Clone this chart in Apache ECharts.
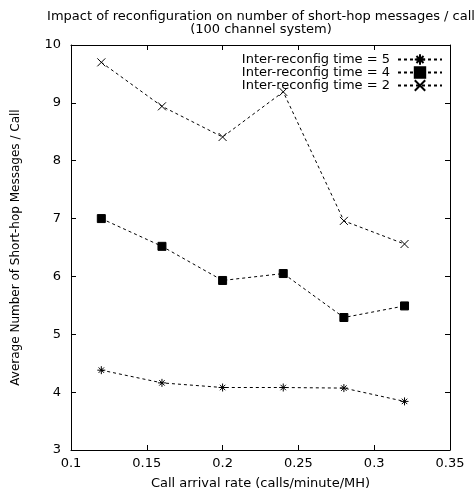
<!DOCTYPE html>
<html>
<head>
<meta charset="utf-8">
<script src="https://cdn.jsdelivr.net/npm/echarts@6/dist/echarts.min.js"></script>
<style>
html, body { margin: 0; padding: 0; background: #fff; }
#chart { width: 475px; height: 490px; }
</style>
</head>
<body>
<div id="chart"></div>
<script>
// call arrival rates
var rates = [0.12, 0.16, 0.2, 0.24, 0.28, 0.32];
// short-hop messages per call, by inter-reconfig time
var time5 = [4.38, 4.16, 4.08, 4.08, 4.07, 3.84];
var time4 = [7.0, 6.52, 5.93, 6.05, 5.29, 5.49];
var time2 = [9.7, 8.94, 8.41, 9.19, 6.96, 6.56];
var seriesNames = ['Inter-reconfig time = 5', 'Inter-reconfig time = 4', 'Inter-reconfig time = 2'];

var font = 'DejaVu Sans, Liberation Sans, sans-serif';
var fs = 13;
var starPath = 'path://M0,5L10,5M5,0L5,10M1.6,1.6L8.4,8.4M8.4,1.6L1.6,8.4';
var crossPath = 'path://M0,0L10,10M10,0L0,10';

function pairs(ys) {
    var out = [];
    for (var i = 0; i < rates.length; i++) {
        out.push([rates[i], ys[i]]);
    }
    return out;
}

function makeSeries(name, ys, symbol, size) {
    return {
        name: name,
        type: 'line',
        data: pairs(ys),
        symbol: symbol,
        symbolSize: size,
        showAllSymbol: true,
        lineStyle: { color: '#000', width: 1, type: [3, 3] },
        itemStyle: { color: '#000', borderColor: '#000', borderWidth: 1 },
        emphasis: { disabled: true },
        animation: false
    };
}

var axisLine = { show: true, lineStyle: { color: '#000', width: 1 } };
var axisTick = { show: true, inside: true, length: 5, lineStyle: { color: '#000' } };

var myChart = echarts.init(document.getElementById('chart'));
myChart.setOption({
    animation: false,
    textStyle: { fontFamily: font },
    title: {
        text: 'Impact of reconfiguration on number of short-hop messages / call\n(100 channel system)',
        left: 256,
        textAlign: 'center',
        top: 5,
        textStyle: { fontFamily: font, fontSize: fs, fontWeight: 'normal', color: '#000', lineHeight: 13 }
    },
    legend: {
        orient: 'vertical',
        right: 27,
        top: 48,
        align: 'right',
        itemWidth: 44,
        itemHeight: 13,
        itemGap: 0,
        textStyle: { fontFamily: font, fontSize: fs, color: '#000', lineHeight: 13, padding: [0, 3, 0, 0] },
        data: seriesNames
    },
    grid: { left: 71, right: 25, top: 45, bottom: 40, containLabel: false, outerBoundsMode: 'none' },
    xAxis: [{
        type: 'value',
        min: 0.1,
        max: 0.35,
        interval: 0.05,
        name: 'Call arrival rate (calls/minute/MH)',
        nameLocation: 'middle',
        nameGap: 27,
        nameTextStyle: { fontFamily: font, fontSize: fs, color: '#000' },
        axisLine: axisLine,
        axisTick: axisTick,
        axisLabel: { fontFamily: font, fontSize: fs, color: '#000', margin: 7 },
        splitLine: { show: false }
    }, {
        type: 'value',
        position: 'top',
        min: 0.1,
        max: 0.35,
        interval: 0.05,
        axisLine: axisLine,
        axisTick: axisTick,
        axisLabel: { show: false },
        splitLine: { show: false }
    }],
    yAxis: [{
        type: 'value',
        min: 3,
        max: 10,
        interval: 1,
        name: 'Average Number of Short-hop Messages / Call',
        nameLocation: 'middle',
        nameGap: 49,
        nameTextStyle: { fontFamily: font, fontSize: 12, color: '#000' },
        axisLine: axisLine,
        axisTick: axisTick,
        axisLabel: { fontFamily: font, fontSize: fs, color: '#000', margin: 10 },
        splitLine: { show: false }
    }, {
        type: 'value',
        position: 'right',
        min: 3,
        max: 10,
        interval: 1,
        axisLine: axisLine,
        axisTick: axisTick,
        axisLabel: { show: false },
        splitLine: { show: false }
    }],
    series: [
        makeSeries(seriesNames[0], time5, starPath, 8),
        makeSeries(seriesNames[1], time4, 'rect', 8),
        makeSeries(seriesNames[2], time2, crossPath, 8)
    ]
});
</script>
</body>
</html>
